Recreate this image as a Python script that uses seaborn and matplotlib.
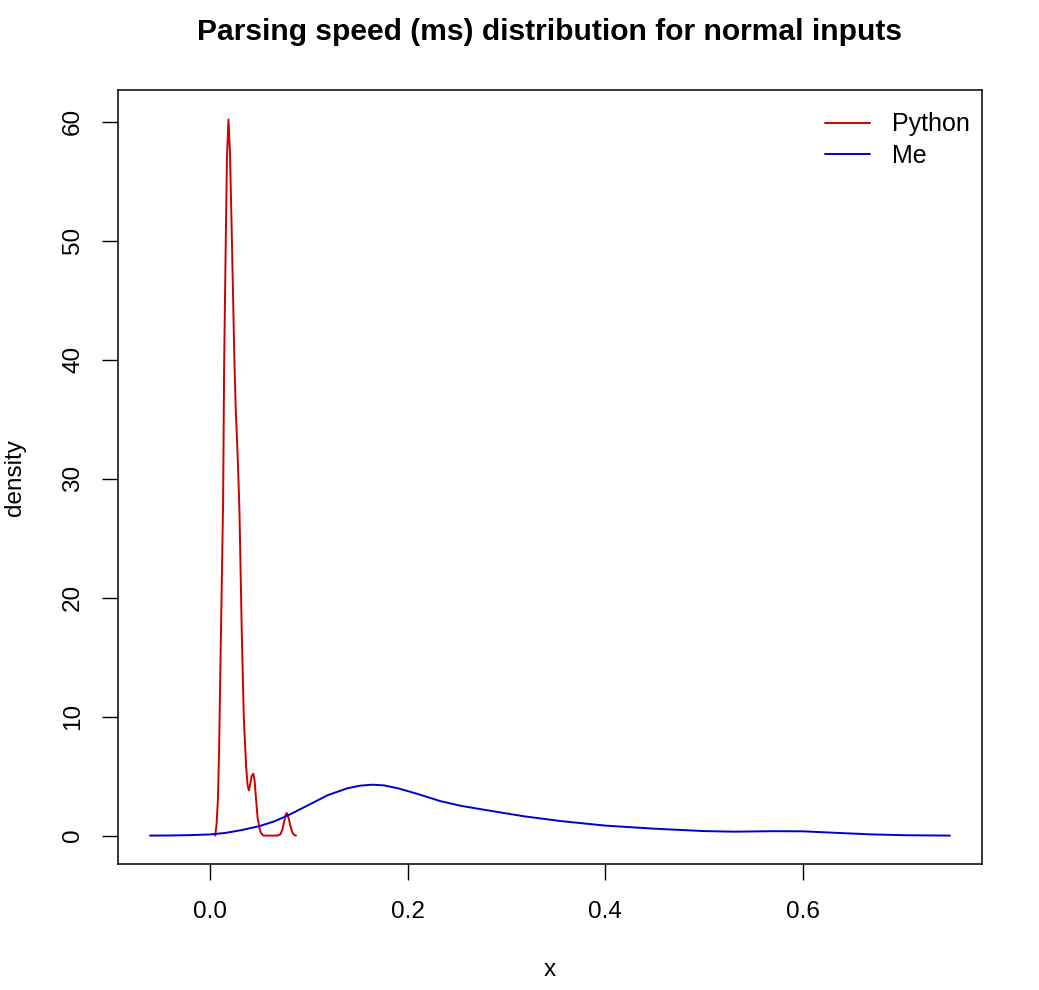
import numpy as np
import pandas as pd
import matplotlib
matplotlib.use("Agg")
import matplotlib.pyplot as plt
import seaborn as sns

# density curves
python_x = [0.0051, 0.0065, 0.0078, 0.0090, 0.0098, 0.0115, 0.0131, 0.0141, 0.0159, 0.0170, 0.0185,
            0.0200, 0.0215, 0.0230, 0.0245, 0.0258, 0.0268, 0.0280, 0.0296, 0.0320, 0.0340, 0.0364,
            0.0378, 0.0391, 0.0405, 0.0420, 0.0437, 0.0450, 0.0465, 0.0480, 0.0500, 0.0515, 0.0540,
            0.0600, 0.0680, 0.0710, 0.0730, 0.0750, 0.0765, 0.0775, 0.0790, 0.0810, 0.0830, 0.0850, 0.0869]
python_y = [0.0, 1.0, 3.0, 7.0, 11.4, 20.0, 28.2, 39.4, 50.7, 57.0, 60.2,
            57.5, 52.0, 46.0, 40.0, 36.0, 34.0, 31.5, 27.4, 17.0, 10.0, 5.8,
            4.3, 3.8, 4.3, 5.0, 5.2, 4.6, 3.0, 1.5, 0.6, 0.2, 0.0,
            0.0, 0.0, 0.1, 0.5, 1.2, 1.75, 1.9, 1.6, 0.9, 0.3, 0.05, 0.0]

me_x = [-0.061, -0.040, -0.020, 0.000, 0.015, 0.031, 0.050, 0.065, 0.080, 0.099, 0.119, 0.139,
        0.152, 0.164, 0.176, 0.190, 0.210, 0.233, 0.254, 0.284, 0.318, 0.355, 0.400, 0.450,
        0.500, 0.530, 0.570, 0.600, 0.637, 0.670, 0.705, 0.749]
me_y = [0.00, 0.01, 0.04, 0.10, 0.22, 0.45, 0.80, 1.20, 1.75, 2.55, 3.40, 3.98,
        4.20, 4.28, 4.22, 3.98, 3.50, 2.90, 2.50, 2.08, 1.62, 1.22, 0.84, 0.58,
        0.38, 0.33, 0.37, 0.36, 0.22, 0.10, 0.03, 0.00]

x_ticks = [0.0, 0.2, 0.4, 0.6]
y_ticks = [0, 10, 20, 30, 40, 50, 60]

df_py = pd.DataFrame({'x': python_x, 'density': python_y})
df_me = pd.DataFrame({'x': me_x, 'density': me_y})

sns.set_style("white")
plt.rcParams['font.family'] = ['Liberation Sans', 'DejaVu Sans']
plt.rcParams['text.color'] = 'black'
plt.rcParams['axes.labelcolor'] = 'black'

fig = plt.figure(figsize=(10.39, 9.9), dpi=100)
ax = fig.add_axes([0.1136, 0.127, 0.8318, 0.7821])

sns.lineplot(data=df_py, x='x', y='density', color='#CD0000', lw=1.4, ax=ax, label='Python')
sns.lineplot(data=df_me, x='x', y='density', color='#0000CD', lw=1.4, ax=ax, label='Me')

ax.set_xlim(-0.0933, 0.7817)
ax.set_ylim(-2.41, 62.68)
ax.set_xticks(x_ticks)
ax.set_xticklabels(['%.1f' % t for t in x_ticks])
ax.set_yticks(y_ticks)
ax.set_yticklabels([str(t) for t in y_ticks], rotation=90, va='center')
ax.tick_params(direction='out', length=11.5, width=1, labelsize=17.5, colors='black',
               bottom=True, left=True)
ax.tick_params(axis='x', pad=15)
ax.tick_params(axis='y', pad=13)

for s in ax.spines.values():
    s.set_visible(True)
    s.set_color('black')
    s.set_linewidth(1.1)

ax.set_xlabel('x', fontsize=17.5)
ax.set_ylabel('density', fontsize=17.5)
ax.xaxis.set_label_coords(0.5, -0.1365)
ax.xaxis.label.set_va('center')
ax.yaxis.set_label_coords(-0.119, 0.5)
ax.yaxis.label.set_va('center')

fig.text(0.5293, 1 - 32 / 990, 'Parsing speed (ms) distribution for normal inputs',
         ha='center', va='center', fontsize=21.6, fontweight='bold')

ax.legend(loc='upper left', bbox_to_anchor=(0.818, 0.971), frameon=False, fontsize=18,
          handlelength=1.8, handletextpad=0.9, labelspacing=0.3, borderpad=0, borderaxespad=0)

plt.savefig('out.png', dpi=100)
